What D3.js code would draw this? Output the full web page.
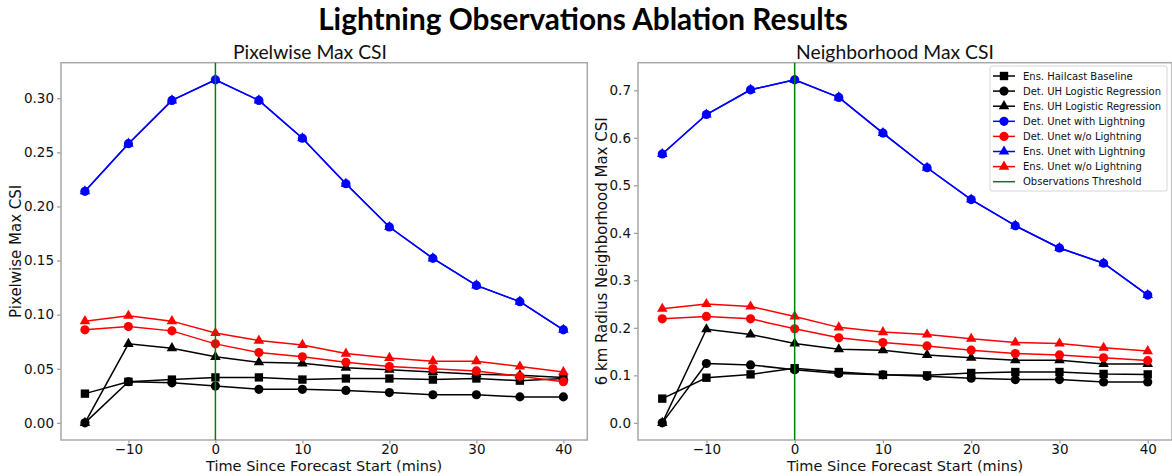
<!DOCTYPE html>
<html>
<head>
<meta charset="utf-8">
<script src="https://cdn.jsdelivr.net/npm/d3@7"></script>
<style>
  body { margin: 0; background: #fff; }
  svg { display: block; }
</style>
</head>
<body>
<div id="chart"></div>
<script>

// lead times (mins)
var times = [-15, -10, -5, 0, 5, 10, 15, 20, 25, 30, 35, 40];

// Pixelwise max CSI
var hailcastPix     = [0.027, 0.038, 0.040, 0.042, 0.042, 0.040, 0.041, 0.041, 0.040, 0.041, 0.039, 0.041];
var detUHPix        = [0.000, 0.038, 0.037, 0.034, 0.031, 0.031, 0.030, 0.028, 0.026, 0.026, 0.024, 0.024];
var ensUHPix        = [0.000, 0.073, 0.069, 0.061, 0.056, 0.055, 0.051, 0.049, 0.047, 0.045, 0.044, 0.042];
var detUnetLtgPix   = [0.214, 0.258, 0.298, 0.317, 0.298, 0.263, 0.221, 0.181, 0.152, 0.127, 0.112, 0.086];
var detUnetNoLtgPix = [0.086, 0.089, 0.085, 0.073, 0.065, 0.061, 0.056, 0.052, 0.050, 0.048, 0.043, 0.038];
var ensUnetLtgPix   = [0.214, 0.258, 0.298, 0.317, 0.298, 0.263, 0.221, 0.181, 0.152, 0.127, 0.112, 0.086];
var ensUnetNoLtgPix = [0.094, 0.099, 0.094, 0.083, 0.076, 0.072, 0.064, 0.060, 0.057, 0.057, 0.052, 0.047];

// 6 km neighborhood max CSI
var hailcastNbr     = [0.051, 0.095, 0.102, 0.115, 0.107, 0.101, 0.100, 0.105, 0.107, 0.107, 0.103, 0.102];
var detUHNbr        = [0.000, 0.125, 0.122, 0.112, 0.104, 0.101, 0.098, 0.094, 0.091, 0.091, 0.086, 0.086];
var ensUHNbr        = [0.000, 0.197, 0.186, 0.167, 0.155, 0.153, 0.143, 0.137, 0.132, 0.132, 0.124, 0.124];
var detUnetLtgNbr   = [0.566, 0.649, 0.701, 0.722, 0.685, 0.610, 0.537, 0.470, 0.415, 0.368, 0.336, 0.269];
var detUnetNoLtgNbr = [0.219, 0.224, 0.219, 0.198, 0.179, 0.169, 0.162, 0.153, 0.146, 0.143, 0.137, 0.131];
var ensUnetLtgNbr   = [0.566, 0.649, 0.701, 0.722, 0.685, 0.610, 0.537, 0.470, 0.415, 0.368, 0.336, 0.269];
var ensUnetNoLtgNbr = [0.240, 0.250, 0.245, 0.224, 0.201, 0.191, 0.186, 0.177, 0.169, 0.167, 0.158, 0.151];

var seriesNames = ["Ens. Hailcast Baseline", "Det. UH Logistic Regression", "Ens. UH Logistic Regression",
                   "Det. Unet with Lightning", "Det. Unet w/o Lightning", "Ens. Unet with Lightning",
                   "Ens. Unet w/o Lightning"];
var seriesColors = ["#000000", "#000000", "#000000", "#0000ff", "#ff0000", "#0000ff", "#ff0000"];
var seriesMarkers = ["square", "circle", "triangle", "circle", "circle", "triangle", "triangle"];
var thresholdLabel = "Observations Threshold";
var thresholdTime = 0;

var xTicks = [-10, 0, 10, 20, 30, 40];
var yTicksPix = [0, 0.05, 0.10, 0.15, 0.20, 0.25, 0.30];
var yTicksNbr = [0, 0.1, 0.2, 0.3, 0.4, 0.5, 0.6, 0.7];

var W = 1172, H = 476;
var tickFont = "'DejaVu Sans', sans-serif";
var titleFont = "Lato, 'Open Sans', sans-serif";

var svg = d3.select("#chart")
  .append("svg")
    .attr("width", W)
    .attr("height", H);

var symbolType = {
  square: d3.symbol().type(d3.symbolSquare).size(70),
  circle: d3.symbol().type(d3.symbolCircle).size(66),
  triangle: d3.symbol().type(d3.symbolTriangle).size(48)
};

// matplotlib style 5% margins
function padded(lo, hi) {
  var m = (hi - lo) * 0.05;
  return [lo - m, hi + m];
}

function fitWidth(text, target) {
  var w = text.node().getComputedTextLength();
  var fs = parseFloat(text.attr("font-size"));
  text.attr("font-size", fs * target / w);
  return fs * target / w;
}

function drawPanel(p) {
  var g = svg.append("g");

  var x = d3.scaleLinear()
    .domain(padded(d3.min(times), d3.max(times)))
    .range([p.left, p.right]);

  var all = d3.merge(p.data);
  var y = d3.scaleLinear()
    .domain(padded(d3.min(all), d3.max(all)))
    .range([p.bottom, p.top]);

  // axes
  g.append("g")
    .attr("transform", "translate(0," + p.bottom + ")")
    .call(d3.axisBottom(x).tickValues(xTicks).tickFormat(d3.format("d")).tickSize(3.5).tickPadding(1));
  g.append("g")
    .attr("transform", "translate(" + p.left + ",0)")
    .call(d3.axisLeft(y).tickValues(p.yTicks).tickFormat(d3.format(p.yFormat)).tickSize(4).tickPadding(3));

  g.selectAll(".domain").remove();
  g.selectAll(".tick line").attr("stroke", "#9a9a9a").attr("stroke-width", 1.2);
  g.selectAll(".tick text")
    .attr("fill", "#111")
    .style("font-family", tickFont)
    .style("font-size", "13.5px");

  // frame
  g.append("rect")
    .attr("x", p.left)
    .attr("y", p.top)
    .attr("width", p.right - p.left)
    .attr("height", p.bottom - p.top)
    .attr("fill", "none")
    .attr("stroke", "#a8a8a8")
    .attr("stroke-width", 1.5);

  var line = d3.line()
    .x(function(d, i) { return x(times[i]); })
    .y(function(d) { return y(d); });

  p.data.forEach(function(vals, k) {
    g.append("path")
      .datum(vals)
      .attr("d", line)
      .attr("fill", "none")
      .attr("stroke", seriesColors[k])
      .attr("stroke-width", 1.5);
    g.selectAll(".m" + k)
      .data(vals)
      .enter()
      .append("path")
        .attr("d", symbolType[seriesMarkers[k]])
        .attr("transform", function(d, i) { return "translate(" + x(times[i]) + "," + y(d) + ")"; })
        .attr("fill", seriesColors[k]);
  });

  // observations threshold
  g.append("line")
    .attr("x1", x(thresholdTime))
    .attr("x2", x(thresholdTime))
    .attr("y1", p.top)
    .attr("y2", p.bottom)
    .attr("stroke", "#008000")
    .attr("stroke-width", 1.5);

  // axis labels
  g.append("text")
    .attr("x", (p.left + p.right) / 2)
    .attr("y", 471)
    .attr("text-anchor", "middle")
    .style("font-family", tickFont)
    .style("font-size", "14.5px")
    .attr("fill", "#111")
    .text("Time Since Forecast Start (mins)");

  g.append("text")
    .attr("transform", "translate(" + p.yLabelX + "," + ((p.top + p.bottom) / 2) + ") rotate(-90)")
    .attr("text-anchor", "middle")
    .style("font-family", tickFont)
    .style("font-size", "15px")
    .attr("fill", "#111")
    .text(p.yLabel);

  var t = g.append("text")
    .attr("x", p.titleX)
    .attr("y", 59)
    .attr("text-anchor", "middle")
    .attr("font-family", titleFont)
    .attr("font-size", 20)
    .attr("fill", "#111")
    .text(p.title);
  return { x: x, y: y, g: g, title: t };
}

var left = drawPanel({
  left: 61, right: 587.3, top: 62.7, bottom: 440,
  data: [hailcastPix, detUHPix, ensUHPix, detUnetLtgPix, detUnetNoLtgPix, ensUnetLtgPix, ensUnetNoLtgPix],
  yTicks: yTicksPix, yFormat: ".2f",
  yLabel: "Pixelwise Max CSI", yLabelX: 21,
  title: "Pixelwise Max CSI", titleX: 310
});

var right = drawPanel({
  left: 638, right: 1172, top: 62.7, bottom: 440,
  data: [hailcastNbr, detUHNbr, ensUHNbr, detUnetLtgNbr, detUnetNoLtgNbr, ensUnetLtgNbr, ensUnetNoLtgNbr],
  yTicks: yTicksNbr, yFormat: ".1f",
  yLabel: "6 km Radius Neighborhood Max CSI", yLabelX: 607,
  title: "Neighborhood Max CSI", titleX: 895
});

// subplot titles share a size fitted to the left one
var fs = fitWidth(left.title, 154);
right.title.attr("font-size", fs);

// main title
var mainTitle = svg.append("text")
  .attr("x", 583)
  .attr("y", 30)
  .attr("text-anchor", "middle")
  .attr("font-family", titleFont)
  .attr("font-weight", 700)
  .attr("font-size", 27)
  .attr("fill", "#000")
  .text("Lightning Observations Ablation Results");
fitWidth(mainTitle, 530);

// legend
var legend = svg.append("g").attr("transform", "translate(990,66)");
var legendNames = seriesNames.concat([thresholdLabel]);

legend.append("rect")
  .attr("x", 0)
  .attr("y", 0)
  .attr("width", 177)
  .attr("height", 125)
  .attr("rx", 2)
  .attr("fill", "#fff")
  .attr("fill-opacity", 0.85)
  .attr("stroke", "#d6d6d6")
  .attr("stroke-width", 1);

legendNames.forEach(function(name, i) {
  var row = legend.append("g").attr("transform", "translate(0," + (10 + i * 15.1) + ")");
  var isObs = i === seriesNames.length;
  row.append("line")
    .attr("x1", 3)
    .attr("x2", 25)
    .attr("stroke", isObs ? "#008000" : seriesColors[i])
    .attr("stroke-width", 1.5);
  if (!isObs) {
    row.append("path")
      .attr("d", symbolType[seriesMarkers[i]])
      .attr("transform", "translate(14,0)")
      .attr("fill", seriesColors[i]);
  }
  row.append("text")
    .attr("x", 33)
    .attr("dy", "0.35em")
    .style("font-family", tickFont)
    .style("font-size", "10px")
    .attr("fill", "#111")
    .text(name);
});

</script>
</body>
</html>
